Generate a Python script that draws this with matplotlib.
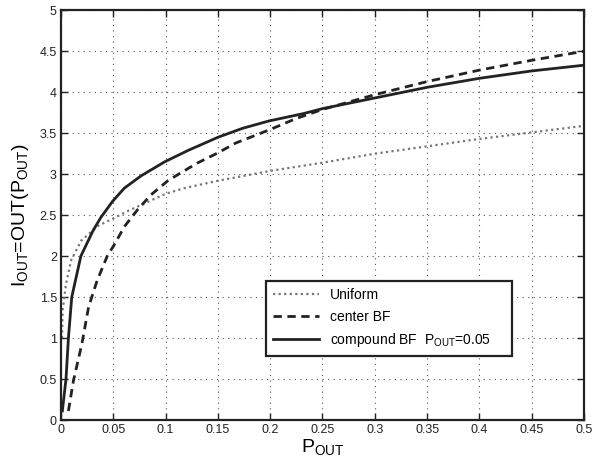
import matplotlib
matplotlib.use('Agg')
import matplotlib.pyplot as plt

plt.rcParams['font.family'] = ['Liberation Sans', 'DejaVu Sans']

# curves
uniform_x = [0.001, 0.0016, 0.0048, 0.0097, 0.0194, 0.0355, 0.05, 0.0638, 0.0862, 0.1,
             0.118, 0.15, 0.2, 0.25, 0.3, 0.35, 0.4, 0.45, 0.5]
uniform_y = [1.0, 1.34, 1.66, 1.95, 2.19, 2.37, 2.46, 2.55, 2.68, 2.76,
             2.83, 2.92, 3.04, 3.14, 3.25, 3.34, 3.43, 3.51, 3.59]

center_x = [0.0071, 0.0119, 0.02, 0.0264, 0.0345, 0.0442, 0.051, 0.0606, 0.0734, 0.0862,
            0.1022, 0.115, 0.131, 0.15, 0.167, 0.199, 0.225, 0.25, 0.3, 0.35, 0.4, 0.45, 0.5]
center_y = [0.11, 0.48, 0.93, 1.38, 1.70, 2.0, 2.14, 2.36, 2.57, 2.75,
            2.92, 3.02, 3.14, 3.26, 3.38, 3.54, 3.68, 3.79, 3.97, 4.13, 4.27, 4.39, 4.5]

compound_x = [0.0013, 0.0048, 0.0071, 0.0103, 0.019, 0.0306, 0.038, 0.0494, 0.0606, 0.0766,
              0.099, 0.1215, 0.15, 0.1736, 0.199, 0.232, 0.25, 0.3, 0.35, 0.4, 0.45, 0.5]
compound_y = [0.11, 0.5, 1.0, 1.5, 2.0, 2.31, 2.47, 2.67, 2.83, 2.98,
              3.15, 3.29, 3.45, 3.56, 3.65, 3.74, 3.8, 3.93, 4.06, 4.17, 4.26, 4.33]

x_ticks = [0, 0.05, 0.1, 0.15, 0.2, 0.25, 0.3, 0.35, 0.4, 0.45, 0.5]
x_ticklabels = ['0', '0.05', '0.1', '0.15', '0.2', '0.25', '0.3', '0.35', '0.4', '0.45', '0.5']
y_ticks = [0, 0.5, 1, 1.5, 2, 2.5, 3, 3.5, 4, 4.5, 5]
y_ticklabels = ['0', '0.5', '1', '1.5', '2', '2.5', '3', '3.5', '4', '4.5', '5']

fig = plt.figure(figsize=(6.08, 4.62), dpi=100)
ax = fig.add_axes([0.1003, 0.0909, 0.8602, 0.8868])

ax.plot(uniform_x, uniform_y, linestyle=(0, (1, 1.5)), color='#777777', linewidth=1.6, label='Uniform')
ax.plot(center_x, center_y, linestyle=(0, (3, 2)), color='#222222', linewidth=2.0, label='center BF')
ax.plot(compound_x, compound_y, linestyle='-', color='#222222', linewidth=2.0,
        label='compound BF  P$_{\\mathregular{OUT}}$=0.05')

ax.set_xlim(0, 0.5)
ax.set_ylim(0, 5)
ax.set_xticks(x_ticks)
ax.set_xticklabels(x_ticklabels)
ax.set_yticks(y_ticks)
ax.set_yticklabels(y_ticklabels)
ax.tick_params(direction='in', length=5, width=1, labelsize=9, top=True, right=True,
               colors='#222222', pad=3)
ax.grid(True, linestyle=(0, (1, 4)), color='#555555', linewidth=0.8)
for s in ax.spines.values():
    s.set_linewidth(1.6)
    s.set_color('#222222')

ax.set_xlabel('P$_{\\mathregular{OUT}}$', fontsize=14, labelpad=1)
ax.set_ylabel('I$_{\\mathregular{OUT}}$=OUT(P$_{\\mathregular{OUT}}$)', fontsize=14, labelpad=6)

leg = ax.legend(loc='lower left', bbox_to_anchor=(0.392, 0.156, 0.47, 0.193), mode='expand',
                fontsize=10, frameon=True, fancybox=False, framealpha=1, edgecolor='#222222',
                handlelength=3.3, borderpad=0.5, labelspacing=0.55, borderaxespad=0)
leg.get_frame().set_linewidth(1.6)

fig.savefig('out.png', dpi=100)
